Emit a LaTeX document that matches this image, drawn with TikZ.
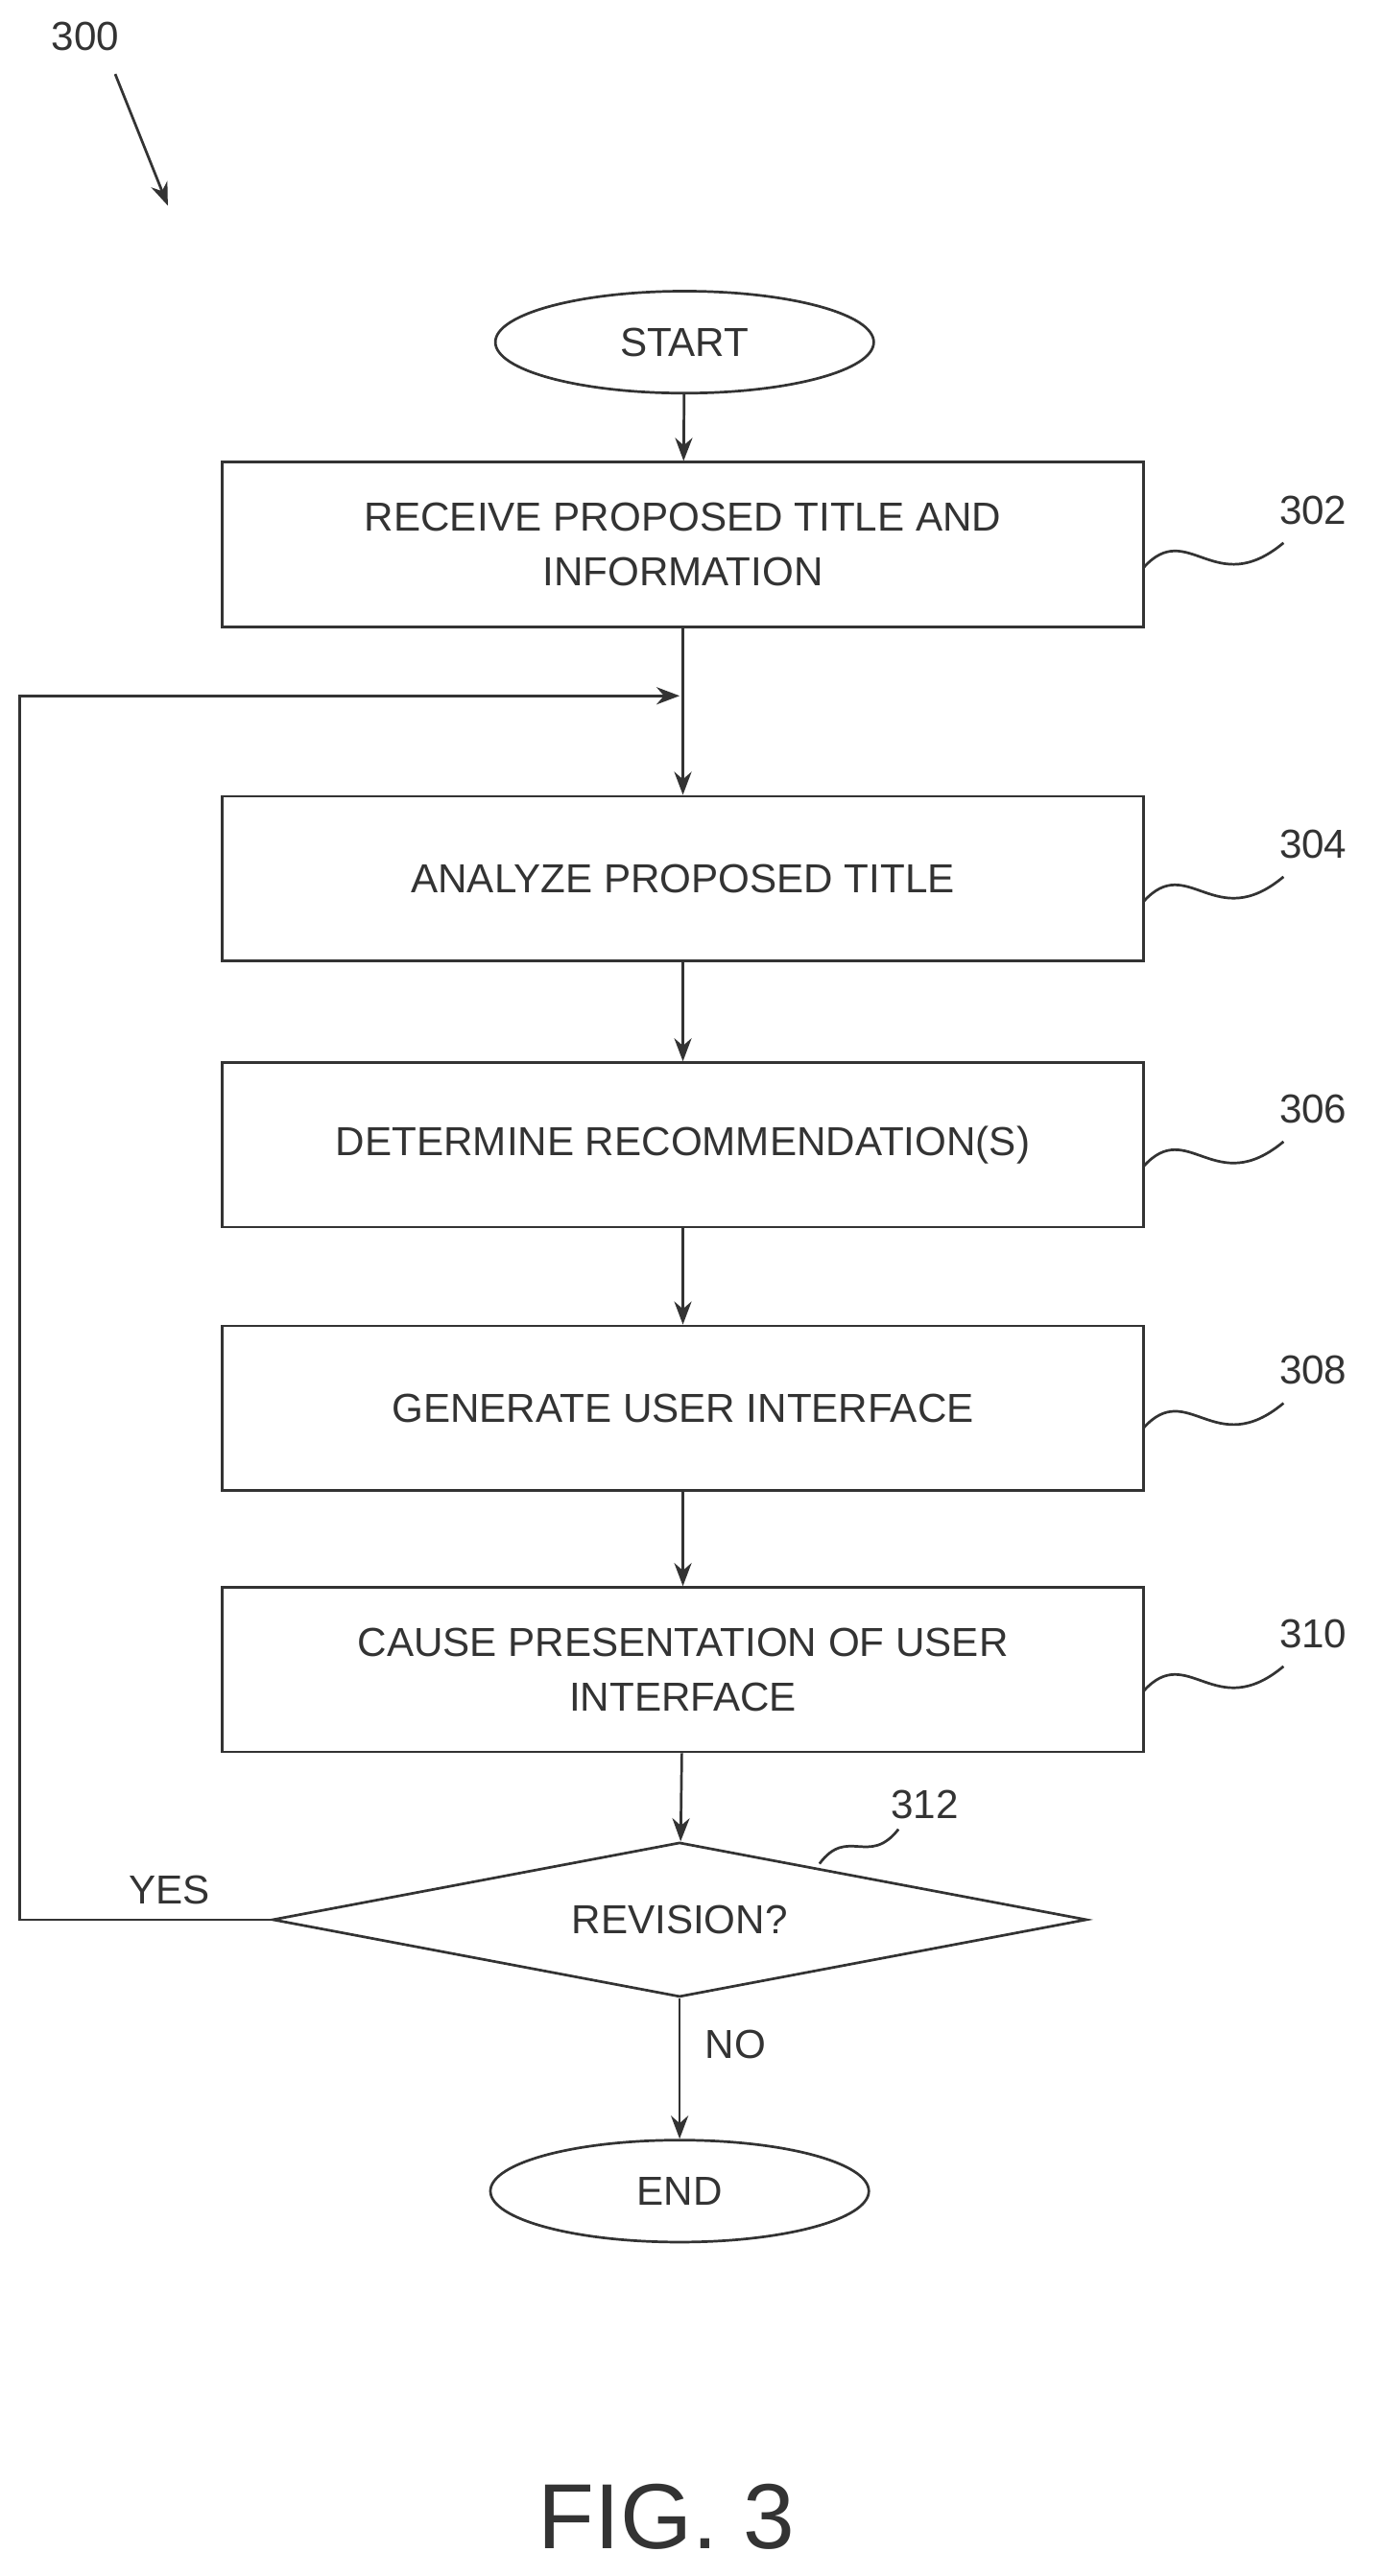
\documentclass[tikz,border=0pt]{standalone}
\usepackage{fontspec}
\setmainfont{Liberation Sans}
\usetikzlibrary{shapes.geometric,arrows.meta}

\tikzset{
  procbox/.style={draw, minimum width=11.2cm, minimum height=2cm, align=center, font=\fontsize{14}{19}\selectfont},
  term/.style={draw, ellipse, minimum width=4.6cm, minimum height=1.24cm, font=\fontsize{14}{17}\selectfont},
  flow/.style={-{Stealth[length=8pt,width=6pt]}},
  tag/.style={font=\fontsize{14}{17}\selectfont}
}

\begin{document}
\begin{tikzpicture}[x=0.02cm,y=-0.02cm,line width=0.9pt,color=black!80]
\useasboundingbox (0,0) rectangle (840,1566);

% terminals and steps
\node[term] (start) at (416,208) {START};
\node[procbox] (s302) at (415,331) {RECEIVE PROPOSED TITLE AND\\INFORMATION};
\node[procbox] (s304) at (415,534) {ANALYZE PROPOSED TITLE};
\node[procbox] (s306) at (415,696) {DETERMINE RECOMMENDATION(S)};
\node[procbox] (s308) at (415,856) {GENERATE USER INTERFACE};
\node[procbox] (s310) at (415,1015) {CAUSE PRESENTATION OF USER\\INTERFACE};
\node[draw, diamond, aspect=5.3, minimum width=9.9cm, minimum height=1.88cm, inner sep=0pt,
      font=\fontsize{14}{17}\selectfont] (rev) at (413,1167) {REVISION?};
\node[term] (finish) at (413,1332) {END};

% connectors
\draw[flow] (start) -- (s302);
\draw[flow] (s302) -- (s304);
\draw[flow] (s304) -- (s306);
\draw[flow] (s306) -- (s308);
\draw[flow] (s308) -- (s310);
\draw[flow] (s310) -- (rev);
\draw[flow] (rev) -- (finish);
\coordinate (join) at (413,423);
\draw[flow] (rev.west) -- (12,1167) -- (12,423) -- (join);

\node[tag] (yes) at (103,1149) {YES};
\node[tag] (no) at (447,1243) {NO};

% reference numerals
\node[tag] (n300) at (52,22) {300};
\draw[flow] (70,45) -- (102,125);
\foreach \lbl/\y in {302/310, 304/513, 306/674, 308/833, 310/993}{
  \node[tag] (n\lbl) at (798,\y) {\lbl};
  \draw (695,\y+35) .. controls (722,\y+5) and (738,\y+55) .. (780,\y+20);
}
\node[tag] (n312) at (562,1097) {312};
\draw (498,1133) .. controls (515,1110) and (528,1135) .. (546,1112);

\node[font=\fontsize{32}{36}\selectfont] (fig) at (405,1530) {FIG. 3};
\end{tikzpicture}
\end{document}
